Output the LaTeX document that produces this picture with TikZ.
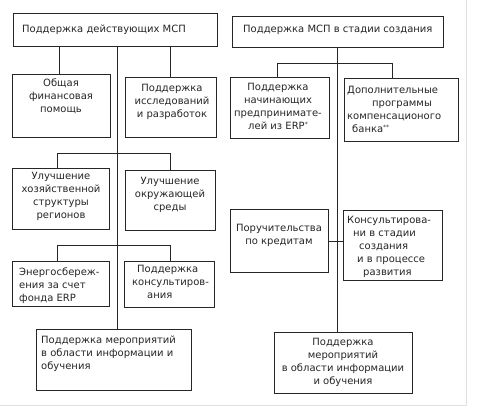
\documentclass[tikz,border=0pt]{standalone}
\usepackage{fontspec}
\setmainfont{DejaVu Sans}
\newcommand\bx[5]{\node[box, minimum width={#4-#2}, minimum height={#5-#3}] (#1) at ({(#2+#4)/2},{(#3+#5)/2}) {};}
\newcommand\sast{\raisebox{2.5pt}{\fontsize{6}{6}\selectfont *}}
\begin{document}
\begin{tikzpicture}[x=1pt,y=-1pt,
  box/.style={draw=black!85, line width=0.9pt, inner sep=0pt},
  txt/.style={inner sep=0pt, font=\fontsize{10}{13}\selectfont, text=black!85},
  ln/.style={draw=black!85, line width=0.9pt}]
\fill[white] (0,0) rectangle (487,415);
\useasboundingbox (0,0) rectangle (487,415);
\draw[black!12, line width=0.8pt] (0,405) -- (466,405) -- (466,0);
% boxes
\bx{L0}{13}{13}{217}{46}
\bx{L1}{12}{74}{110}{137}
\bx{L2}{125}{77}{216}{137}
\bx{L3}{12}{168}{109}{229}
\bx{L4}{125}{170}{215}{230}
\bx{L5}{12}{261}{109}{306}
\bx{L6}{124}{261}{214}{307}
\bx{L7}{36}{329}{191}{390}
\bx{R0}{232}{16}{443}{47}
\bx{R1}{230}{77}{329}{138}
\bx{R2}{344}{78}{458}{141}
\bx{R3}{230}{209}{328}{272}
\bx{R4}{343}{210}{442}{280}
\bx{R5}{274}{332}{412}{393}
% texts
\node[txt, anchor=west] (tL0) at (22,30) {Поддержка действующих МСП};
\node[txt, anchor=north, align=center] (tL1) at (61,79) {Общая\\финансовая\\помощь};
\node[txt, anchor=north, align=center] (tL2) at (172,84) {Поддержка\\исследований\\и разработок};
\node[txt, anchor=north, align=center] (tL3) at (61,172) {Улучшение\\хозяйственной\\структуры\\регионов};
\node[txt, anchor=north, align=center] (tL4) at (170,177) {Улучшение\\окружающей\\среды};
\node[txt, anchor=north west, align=left] (tL5) at (19,268) {Энергосбереж-\\ения за счет\\фонда ERP};
\node[txt, anchor=north west, align=left] (tL6) at (132,265) {\hspace*{5pt}Поддержка\\консультиров-\\\hspace*{15pt}ания};
\node[txt, anchor=north west, align=left] (tL7) at (41,336) {Поддержка мероприятий\\в области информации и\\обучения};
\node[txt, anchor=west] (tR0) at (243,30) {Поддержка МСП в стадии создания};
\node[txt, anchor=north, align=center] (tR1) at (278,83) {Поддержка\\начинающих\\предпринимате-\\лей из ERP\sast};
\node[txt, anchor=north west, align=left] (tR2) at (347,86) {Дополнительные\\\hspace*{25pt}программы\\компенсационого\\\hspace*{5pt}банка\sast\sast};
\node[txt, anchor=north, align=center] (tR3) at (279,224) {Поручительства\\по кредитам};
\node[txt, anchor=north west, align=left] (tR4) at (347,216) {Консультирова-\\\hspace*{6pt}ни в стадии\\\hspace*{12pt}создания\\\hspace*{10pt}и в процессе\\\hspace*{16pt}развития};
\node[txt, anchor=north, align=center] (tR5) at (343,338) {Поддержка\\мероприятий\\в области информации\\и обучения};
% helper coordinates
\coordinate (xa) at (59,0);
\coordinate (xt) at (117,0);
\coordinate (xb) at (170,0);
\coordinate (xc) at (57,0);
\coordinate (xd) at (170,0);
\coordinate (h1) at (0,153);
\coordinate (h2) at (0,245);
\coordinate (xr) at (337,0);
\coordinate (xe) at (277,0);
\coordinate (xf) at (392,0);
\coordinate (h3) at (0,63);
\coordinate (h4) at (0,241);
% connectors left
\draw[ln] (L0.south -| xa) -- (L1.north -| xa);
\draw[ln] (L0.south -| xb) -- (L2.north -| xb);
\draw[ln] (L0.south -| xt) -- (L7.north -| xt);
\draw[ln] (L3.north -| xc) -- (xc |- h1) -- (xd |- h1) -- (L4.north -| xd);
\draw[ln] (L5.north -| xc) -- (xc |- h2) -- (xd |- h2) -- (L6.north -| xd);
% connectors right
\draw[ln] (R0.south -| xr) -- (R5.north -| xr);
\draw[ln] (R1.north -| xe) -- (xe |- h3) -- (xf |- h3) -- (R2.north -| xf);
\draw[ln] (R3.east |- h4) -- (R4.west |- h4);
\end{tikzpicture}
\end{document}
